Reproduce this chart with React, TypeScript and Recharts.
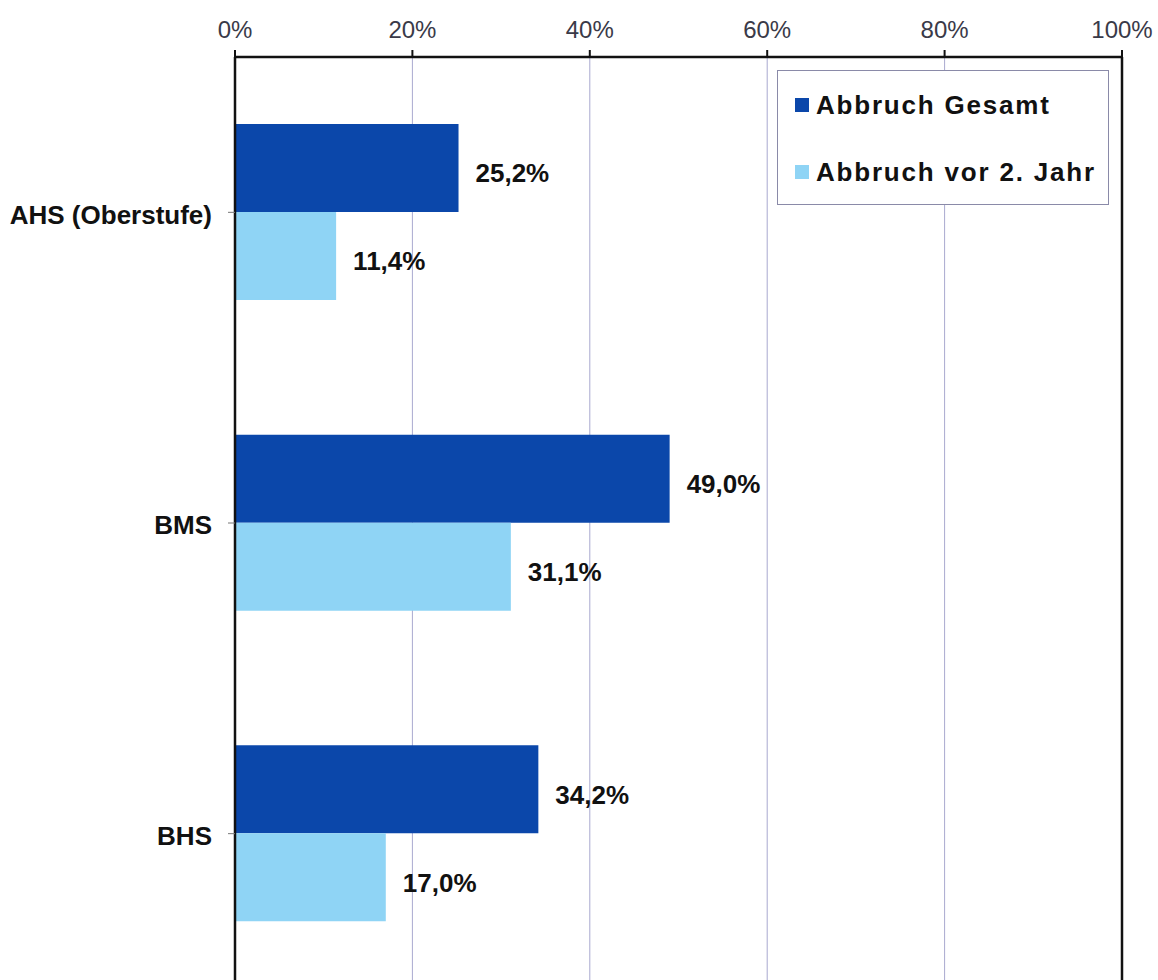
import { BarChart, Bar, XAxis, YAxis, CartesianGrid, LabelList, ReferenceLine } from 'recharts';

const categories = ['AHS (Oberstufe)', 'BMS', 'BHS'];
const abbruchGesamt = [0.252, 0.49, 0.342];
const abbruchVor2Jahr = [0.114, 0.311, 0.17];
const xTicks = [0, 0.2, 0.4, 0.6, 0.8, 1];

const DARK = '#0b47aa';
const LIGHT = '#8fd4f5';
const FONT = '"Liberation Sans", Arial, sans-serif';

const data = categories.map((name, i) => ({
    name,
    gesamt: abbruchGesamt[i],
    vor2: abbruchVor2Jahr[i],
}));

const pct = (v: number) => `${Math.round(v * 100)}%`;
const pctLabel = (v: number) => `${(v * 100).toFixed(1).replace('.', ',')}%`;

const legendItems = [
    { label: 'Abbruch Gesamt', color: DARK },
    { label: 'Abbruch vor 2. Jahr', color: LIGHT },
];

// legend box sits inside the plot, top right
function LegendBox() {
    return (
        <div
            style={{
                position: 'absolute',
                left: 777,
                top: 70,
                width: 332,
                height: 135,
                boxSizing: 'border-box',
                border: '1px solid #8a8aa8',
                background: '#fff',
                paddingLeft: 17,
                paddingTop: 19,
                fontFamily: FONT,
            }}
        >
            {legendItems.map((it, i) => (
                <div key={it.label} style={{ display: 'flex', alignItems: 'center', height: 30, marginBottom: i === 0 ? 37 : 0 }}>
                    <span style={{ width: 14, height: 14, background: it.color, marginRight: 7, display: 'inline-block' }} />
                    <span style={{ fontSize: 26, fontWeight: 'bold', color: '#111', letterSpacing: 1.8 }}>{it.label}</span>
                </div>
            ))}
        </div>
    );
}

const labelStyle = { fontSize: 26, fontWeight: 'bold', fill: '#111' };

export default function App() {
    return (
        <div style={{ position: 'absolute', left: 0, top: 0, width: 1158, height: 1000, background: '#fff' }}>
            <BarChart
                width={1158}
                height={1000}
                data={data}
                layout="vertical"
                margin={{ top: 0, right: 36, left: 0, bottom: 11 }}
                barGap={0}
                style={{ fontFamily: FONT }}
            >
                <CartesianGrid horizontal={false} stroke="#a9a9cf" strokeWidth={1} />
                <XAxis
                    type="number"
                    orientation="top"
                    domain={[0, 1]}
                    ticks={xTicks}
                    tickFormatter={pct}
                    height={57}
                    tickSize={7}
                    tickMargin={12}
                    tick={{ fontSize: 24, fill: '#3a3a48' }}
                    axisLine={{ stroke: '#111', strokeWidth: 2.5 }}
                    tickLine={{ stroke: '#111', strokeWidth: 2 }}
                />
                <YAxis
                    type="category"
                    dataKey="name"
                    width={235}
                    tickSize={7}
                    tickMargin={16}
                    tick={{ fontSize: 26, fontWeight: 'bold', fill: '#111', dy: 2 }}
                    axisLine={{ stroke: '#111', strokeWidth: 2.5 }}
                    tickLine={{ stroke: '#777', strokeWidth: 1 }}
                />
                <ReferenceLine x={1} stroke="#111" strokeWidth={2.5} />
                <Bar dataKey="gesamt" name="Abbruch Gesamt" fill={DARK} barSize={88} isAnimationActive={false}>
                    <LabelList dataKey="gesamt" position="right" offset={17} dy={5} formatter={pctLabel} style={labelStyle} />
                </Bar>
                <Bar dataKey="vor2" name="Abbruch vor 2. Jahr" fill={LIGHT} barSize={88} isAnimationActive={false}>
                    <LabelList dataKey="vor2" position="right" offset={17} dy={5} formatter={pctLabel} style={labelStyle} />
                </Bar>
            </BarChart>
            <LegendBox />
        </div>
    );
}
